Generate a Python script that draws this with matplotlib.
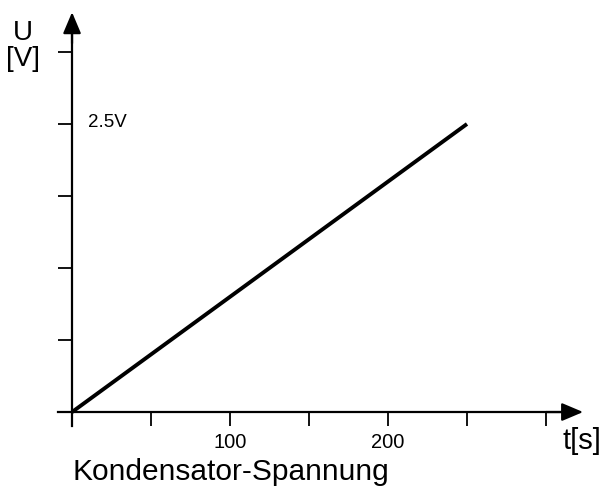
import matplotlib
matplotlib.use("Agg")
import matplotlib.pyplot as plt

plt.rcParams['font.family'] = ['Liberation Sans', 'DejaVu Sans']

# capacitor voltage, linear charge
t = [0, 250]
u = [0, 2.5]

x_ticks = [0, 50, 100, 150, 200, 250, 300]
x_labels = ['', '', '100', '', '200', '', '']
y_ticks = [0.625, 1.25, 1.875, 2.5, 3.125]

fig = plt.figure(figsize=(6.03, 4.92), dpi=100)
ax = fig.add_axes([0, 0, 1, 1])
ax.set_xlim(-45.6, 336.1)
ax.set_ylim(-0.694, 3.576)

ax.plot(t, u, color='black', lw=2.8, solid_capstyle='butt')

for side in ['top', 'right']:
    ax.spines[side].set_visible(False)
ax.spines['left'].set_position(('data', 0))
ax.spines['bottom'].set_position(('data', 0))
ax.spines['left'].set_bounds(-0.12, 3.3)
ax.spines['bottom'].set_bounds(-9, 310)
ax.spines['left'].set_linewidth(1.6)
ax.spines['bottom'].set_linewidth(1.6)

# arrow heads
ax.annotate('', xy=(323.5, 0), xytext=(300, 0),
            arrowprops=dict(arrowstyle='-|>,head_length=1.3,head_width=0.55',
                            color='black', lw=1.6, shrinkA=0, shrinkB=0))
ax.annotate('', xy=(0, 3.47), xytext=(0, 3.2),
            arrowprops=dict(arrowstyle='-|>,head_length=1.3,head_width=0.55',
                            color='black', lw=1.6, shrinkA=0, shrinkB=0))

ax.set_xticks(x_ticks)
ax.set_xticklabels(x_labels, fontsize=14.5)
ax.set_yticks(y_ticks)
ax.set_yticklabels([])
ax.tick_params(axis='x', direction='out', length=10, width=1.3, pad=5)
ax.tick_params(axis='y', direction='out', length=10, width=1.3)

ax.text(10, 2.515, '2.5V', fontsize=13.5, ha='left', va='center')
ax.text(-31, 3.229, 'U', fontsize=20, ha='center', va='baseline')
ax.text(-31, 3.004, '[V]', fontsize=20, ha='center', va='baseline')
ax.text(334.8, -0.321, 't[s]', fontsize=21, ha='right', va='baseline')
ax.text(0, -0.59, 'Kondensator-Spannung', fontsize=21.5, ha='left', va='baseline')

fig.savefig('out.png', dpi=100)
